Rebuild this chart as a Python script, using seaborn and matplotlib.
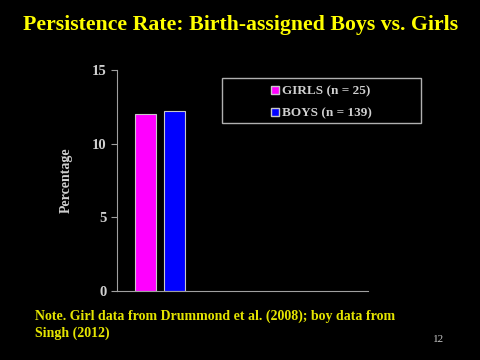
import matplotlib
matplotlib.use("Agg")
import matplotlib.pyplot as plt
import seaborn as sns
import pandas as pd
from matplotlib.patches import Patch, Rectangle

groups = ["GIRLS (n = 25)", "BOYS (n = 139)"]
values = [12.0, 12.2]
colors = ["#FF00FF", "#0000FF"]
yticks = [0, 5, 10, 15]

sns.set_theme(style="ticks")
plt.rcParams['font.family'] = ['Liberation Serif', 'DejaVu Serif']

df = pd.DataFrame({"group": groups, "value": values})

fig = plt.figure(figsize=(4.81, 3.6), dpi=100, facecolor="black")
ax = fig.add_axes([117/481, 69/360, 251/481, 221/360])
ax.set_facecolor("black")

sns.barplot(data=df, x="group", y="value", hue="group", order=groups,
            hue_order=groups, palette=colors, dodge=False, width=0.72,
            saturation=1, edgecolor="#C8C8C8", linewidth=0.8, ax=ax, legend=False)

ax.set_xlim(-0.98, 7.67)
ax.set_ylim(0, 15)
ax.set_yticks(yticks)
ax.set_yticklabels([str(t) for t in yticks], fontsize=10.5, fontweight="bold", color="#D0D0D0")
ax.set_xticks([])
ax.set_xlabel("")
ax.set_ylabel("Percentage", fontsize=10, fontweight="bold", color="#D0D0D0", labelpad=14)
for s in ["top", "right"]:
    ax.spines[s].set_visible(False)
for s in ["left", "bottom"]:
    ax.spines[s].set_color("#A0A0A0")
    ax.spines[s].set_linewidth(0.8)
ax.tick_params(axis="y", colors="#A0A0A0", length=4, width=0.8, labelcolor="#D0D0D0")

# legend frame
fig.add_artist(Rectangle((222/481, 1 - 123/360), (421-222)/481, (123-78)/360,
                         transform=fig.transFigure, facecolor="black",
                         edgecolor="#B0B0B0", linewidth=1.0, zorder=5))
handles = [Patch(facecolor=c, edgecolor="#C8C8C8", label=g) for c, g in zip(colors, groups)]
leg = fig.legend(handles=handles, loc="center", bbox_to_anchor=(321.5/481, 1 - 102.5/360),
                 frameon=False,
                 prop={"family": "Liberation Serif", "weight": "bold", "size": 9.5},
                 handlelength=0.55, handleheight=0.55, handletextpad=0.25,
                 borderpad=0.3, labelspacing=0.8, borderaxespad=0)
leg.set_zorder(6)
for t in leg.get_texts():
    t.set_color("#D0D0D0")

fig.text(0.5, 1 - 25/360, "Persistence Rate: Birth-assigned Boys vs. Girls",
         ha="center", va="center", color="#FFFF00", fontsize=15.7, fontweight="bold")
fig.text(35/481, 1 - 316/360, "Note. Girl data from Drummond et al. (2008); boy data from",
         ha="left", va="center", color="#E5E500", fontsize=10, fontweight="bold")
fig.text(35/481, 1 - 333/360, "Singh (2012)",
         ha="left", va="center", color="#E5E500", fontsize=10, fontweight="bold")
fig.text(439/481, 1 - 340/360, "12", ha="center", va="center", color="#C8C8C8", fontsize=8)

fig.savefig("out.png", dpi=100, facecolor="black")
